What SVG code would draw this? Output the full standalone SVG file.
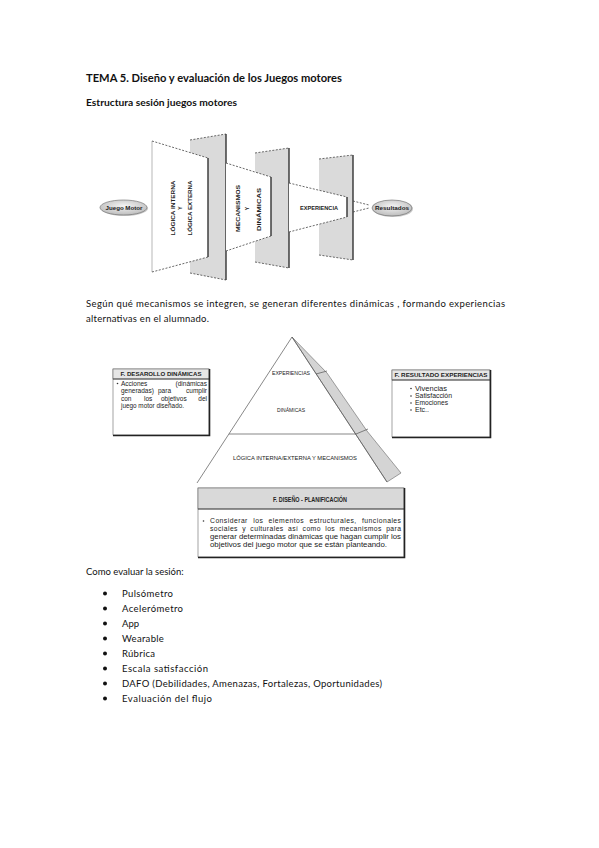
<svg xmlns="http://www.w3.org/2000/svg" width="599" height="848" viewBox="0 0 599 848">
<defs>
<radialGradient id="eg" cx="50%" cy="40%" r="60%">
<stop offset="0" stop-color="#f4f4f4"/><stop offset="1" stop-color="#bdbdbd"/>
</radialGradient>
</defs>
<style>
.doc{font-family:Lato,"Open Sans","Liberation Sans",sans-serif;fill:#111}
.b{font-weight:bold}
.d{font-family:"Liberation Sans",Arial,sans-serif;fill:#222}
.gp{fill:#dadada;stroke:none}
.wp{fill:#fff;stroke:none}
.dash{stroke:#444;stroke-width:0.8;stroke-dasharray:2 1.5;fill:none}
.edge{stroke:#333;stroke-width:1.4;fill:none}
.thin{stroke:#888;stroke-width:0.6;fill:none}
.ln{stroke:#555;stroke-width:0.7;fill:none}
.box{fill:#fff;stroke:#666;stroke-width:0.6}
.hdr{fill:#e6e6e6;stroke:#666;stroke-width:0.6}
.shd{stroke:#222;stroke-width:1.6;fill:none}
</style>
<rect width="599" height="848" fill="#fff"/>

<g id="headings">
<text class="doc b" x="86" y="82" font-size="12" textLength="256" lengthAdjust="spacingAndGlyphs">TEMA 5. Diseño y evaluación de los Juegos motores</text>
<text class="doc b" x="86" y="106" font-size="10" textLength="151" lengthAdjust="spacingAndGlyphs">Estructura sesión juegos motores</text>
</g>

<!-- Top flow diagram -->
<g id="juego-motor">
<ellipse cx="124.5" cy="208.5" rx="23.5" ry="7.5" fill="#999" opacity="0.5"/>
<ellipse cx="123.5" cy="207.5" rx="23.5" ry="7.5" fill="url(#eg)" stroke="#666" stroke-width="0.6"/>
<text class="d b" x="124" y="209.8" font-size="6" text-anchor="middle" textLength="37" lengthAdjust="spacingAndGlyphs">Juego Motor</text>
</g>

<g id="panel-logica-back">
<polygon class="gp" points="190,140 226,134 226,280 190,273"/>
<line class="dash" x1="190" y1="140" x2="226" y2="134"/>
<line class="dash" x1="190" y1="273" x2="226" y2="280"/>
<line class="edge" x1="226" y1="134" x2="226" y2="280"/>
</g>
<g id="panel-logica">
<polygon class="wp" points="152,141 208,158 208,257 152,272"/>
<line class="thin" x1="152" y1="141" x2="152" y2="272"/>
<line class="dash" x1="152" y1="141" x2="208" y2="158"/>
<line class="dash" x1="152" y1="272" x2="208" y2="257"/>
<line class="edge" x1="208" y1="158" x2="208" y2="257"/>
<text class="d b" transform="translate(174.5,208) rotate(-90)" font-size="6.2" text-anchor="middle" textLength="55" lengthAdjust="spacingAndGlyphs">LÓGICA INTERNA</text>
<text class="d b" transform="translate(181.5,208) rotate(-90)" font-size="5" text-anchor="middle">Y</text>
<text class="d b" transform="translate(191.5,208) rotate(-90)" font-size="6.2" text-anchor="middle" textLength="55" lengthAdjust="spacingAndGlyphs">LÓGICA EXTERNA</text>
</g>

<g id="panel-mecanismos-back">
<polygon class="gp" points="255,153 289,148 289,268 255,262"/>
<line class="dash" x1="255" y1="153" x2="289" y2="148"/>
<line class="dash" x1="255" y1="262" x2="289" y2="268"/>
<line class="edge" x1="289" y1="148" x2="289" y2="268"/>
</g>
<g id="panel-mecanismos">
<polygon class="wp" points="226,163 271,177 271,236 226,251"/>
<line class="dash" x1="226" y1="163" x2="271" y2="177"/>
<line class="dash" x1="226" y1="251" x2="271" y2="236"/>
<line class="edge" x1="271" y1="177" x2="271" y2="236"/>
<text class="d b" transform="translate(239.5,208.5) rotate(-90)" font-size="6.2" text-anchor="middle" textLength="47" lengthAdjust="spacingAndGlyphs">MECANISMOS</text>
<text class="d b" transform="translate(249,208.5) rotate(-90)" font-size="5" text-anchor="middle">Y</text>
<text class="d b" transform="translate(260.5,209.5) rotate(-90)" font-size="6.2" text-anchor="middle" textLength="43" lengthAdjust="spacingAndGlyphs">DINÁMICAS</text>
</g>

<g id="panel-experiencia-back">
<polygon class="gp" points="319,159 353,155 353,260 319,255"/>
<line class="dash" x1="319" y1="159" x2="353" y2="155"/>
<line class="dash" x1="319" y1="255" x2="353" y2="260"/>
<line class="edge" x1="353" y1="155" x2="353" y2="260"/>
</g>
<g id="panel-experiencia">
<polygon class="wp" points="289,183 347,197 347,217 289,232"/>
<line class="dash" x1="289" y1="183" x2="347" y2="197"/>
<line class="dash" x1="289" y1="232" x2="347" y2="217"/>
<line class="edge" x1="347" y1="197" x2="347" y2="217"/>
<text class="d b" x="319" y="209.5" font-size="5.5" text-anchor="middle" textLength="38" lengthAdjust="spacingAndGlyphs">EXPERIENCIA</text>
</g>

<g id="connectors">
<line class="dash" x1="353" y1="201" x2="369" y2="205"/>
<line class="dash" x1="353" y1="212" x2="369" y2="208"/>
</g>

<g id="resultados">
<ellipse cx="393" cy="209" rx="20" ry="8" fill="#999" opacity="0.5"/>
<ellipse cx="392" cy="208" rx="20" ry="8" fill="url(#eg)" stroke="#666" stroke-width="0.6"/>
<text class="d b" x="392" y="210.2" font-size="6" text-anchor="middle" textLength="34" lengthAdjust="spacingAndGlyphs">Resultados</text>
</g>

<g id="paragraph">
<text class="doc" x="86" y="307" font-size="9.5" textLength="419" lengthAdjust="spacing">Según qué mecanismos se integren, se generan diferentes dinámicas , formando experiencias</text>
<text class="doc" x="86" y="322" font-size="9.5" textLength="123" lengthAdjust="spacing">alternativas en el alumnado.</text>
</g>

<!-- Pyramid -->
<g id="pyramid">
<polygon points="292,337 327,373 367,431 401,473 387,482" fill="#d4d4d4" stroke="#666" stroke-width="0.6"/>
<line class="ln" x1="316" y1="374" x2="327" y2="371"/>
<line class="ln" x1="356" y1="434" x2="368" y2="429"/>
<line class="ln" x1="292" y1="337" x2="197" y2="483"/>
<line class="ln" x1="292" y1="337" x2="387" y2="482"/>
<line class="ln" x1="229" y1="434" x2="356" y2="434"/>
<text class="d" x="291" y="375" font-size="4.8" text-anchor="middle" textLength="38" lengthAdjust="spacingAndGlyphs">EXPERIENCIAS</text>
<text class="d" x="291" y="412" font-size="4.8" text-anchor="middle" textLength="28" lengthAdjust="spacingAndGlyphs">DINÁMICAS</text>
<text class="d" x="295" y="460" font-size="4.8" text-anchor="middle" textLength="124" lengthAdjust="spacingAndGlyphs">LÓGICA INTERNA/EXTERNA Y MECANISMOS</text>
</g>

<g id="box-desarrollo">
<rect class="box" x="113" y="369" width="96" height="66"/>
<rect class="hdr" x="113" y="369" width="96" height="10"/>
<line x1="113" y1="379" x2="209" y2="379" stroke="#333" stroke-width="0.8"/>
<polyline class="shd" points="209.5,369 209.5,435.5 113,435.5"/>
<text class="d b" x="161" y="376.2" font-size="5.5" text-anchor="middle" textLength="81" lengthAdjust="spacingAndGlyphs">F. DESAROLLO  DINÁMICAS</text>
<circle cx="117.5" cy="383.5" r="0.8" fill="#333"/>
<text class="d" x="121" y="385.5" font-size="6.5">Acciones</text>
<text class="d" x="207" y="385.5" font-size="6.5" text-anchor="end">(dinámicas</text>
<text class="d" x="121" y="393" font-size="6.5">generadas)</text>
<text class="d" x="158" y="393" font-size="6.5">para</text>
<text class="d" x="207" y="393" font-size="6.5" text-anchor="end">cumplir</text>
<text class="d" x="121" y="400.5" font-size="6.5">con</text>
<text class="d" x="144" y="400.5" font-size="6.5">los</text>
<text class="d" x="161" y="400.5" font-size="6.5">objetivos</text>
<text class="d" x="207" y="400.5" font-size="6.5" text-anchor="end">del</text>
<text class="d" x="121" y="408" font-size="6.5" textLength="63" lengthAdjust="spacingAndGlyphs">juego motor diseñado.</text>
</g>

<g id="box-resultado">
<rect class="box" x="392" y="370" width="98" height="67"/>
<rect class="hdr" x="392" y="370" width="98" height="10"/>
<line x1="392" y1="380" x2="490" y2="380" stroke="#333" stroke-width="0.8"/>
<polyline class="shd" points="490.5,370 490.5,437.5 392,437.5"/>
<text class="d b" x="441" y="377.2" font-size="5.5" text-anchor="middle" textLength="93" lengthAdjust="spacingAndGlyphs">F. RESULTADO EXPERIENCIAS</text>
<circle cx="411" cy="388.5" r="0.8" fill="#333"/>
<circle cx="411" cy="396" r="0.8" fill="#333"/>
<circle cx="411" cy="403" r="0.8" fill="#333"/>
<circle cx="411" cy="410" r="0.8" fill="#333"/>
<text class="d" x="415" y="390.5" font-size="6.5" textLength="32" lengthAdjust="spacingAndGlyphs">Vivencias</text>
<text class="d" x="415" y="398" font-size="6.5" textLength="37" lengthAdjust="spacingAndGlyphs">Satisfacción</text>
<text class="d" x="415" y="405" font-size="6.5" textLength="33" lengthAdjust="spacingAndGlyphs">Emociones</text>
<text class="d" x="415" y="412" font-size="6.5" textLength="14" lengthAdjust="spacingAndGlyphs">Etc..</text>
</g>

<g id="box-diseno">
<rect class="box" x="198" y="488" width="206" height="69"/>
<rect x="198" y="488" width="206" height="21" fill="#d9d9d9" stroke="#666" stroke-width="0.6"/>
<line x1="198" y1="509" x2="404" y2="509" stroke="#333" stroke-width="0.8"/>
<polyline class="shd" points="404.5,488 404.5,557.5 198,557.5"/>
<text class="d b" x="310" y="502" font-size="6.5" text-anchor="middle" textLength="74" lengthAdjust="spacingAndGlyphs">F. DISEÑO - PLANIFICACIÓN</text>
<circle cx="203.5" cy="521" r="0.8" fill="#333"/>
<text class="d" x="210" y="523" font-size="6.8" textLength="191" lengthAdjust="spacing" word-spacing="3">Considerar los elementos estructurales, funcionales</text>
<text class="d" x="210" y="531" font-size="6.8" textLength="191" lengthAdjust="spacing" word-spacing="2">sociales y culturales así como los mecanismos para</text>
<text class="d" x="210" y="539" font-size="6.8" textLength="191" lengthAdjust="spacingAndGlyphs">generar determinadas dinámicas que hagan cumplir los</text>
<text class="d" x="210" y="547" font-size="6.8" textLength="177" lengthAdjust="spacingAndGlyphs">objetivos del juego motor que se están planteando.</text>
</g>

<g id="evaluation-list">
<text class="doc" x="86" y="575" font-size="9.5">Como evaluar la sesión:</text>
<g fill="#111">
<circle cx="105" cy="593.5" r="2"/>
<circle cx="105" cy="608.5" r="2"/>
<circle cx="105" cy="623.5" r="2"/>
<circle cx="105" cy="638.5" r="2"/>
<circle cx="105" cy="653.5" r="2"/>
<circle cx="105" cy="668.5" r="2"/>
<circle cx="105" cy="683.5" r="2"/>
<circle cx="105" cy="698.5" r="2"/>
</g>
<text class="doc" x="122" y="597" font-size="9.5" textLength="51" lengthAdjust="spacing">Pulsómetro</text>
<text class="doc" x="122" y="612" font-size="9.5" textLength="61" lengthAdjust="spacing">Acelerómetro</text>
<text class="doc" x="122" y="627" font-size="9.5" textLength="17" lengthAdjust="spacing">App</text>
<text class="doc" x="122" y="642" font-size="9.5" letter-spacing="0.3">Wearable</text>
<text class="doc" x="122" y="657" font-size="9.5" textLength="33" lengthAdjust="spacing">Rúbrica</text>
<text class="doc" x="122" y="672" font-size="9.5" textLength="86" lengthAdjust="spacing">Escala satisfacción</text>
<text class="doc" x="122" y="687" font-size="9.5" textLength="260" lengthAdjust="spacing">DAFO (Debilidades, Amenazas, Fortalezas, Oportunidades)</text>
<text class="doc" x="122" y="702" font-size="9.5" textLength="90" lengthAdjust="spacing">Evaluación del flujo</text>
</g>
</svg>
